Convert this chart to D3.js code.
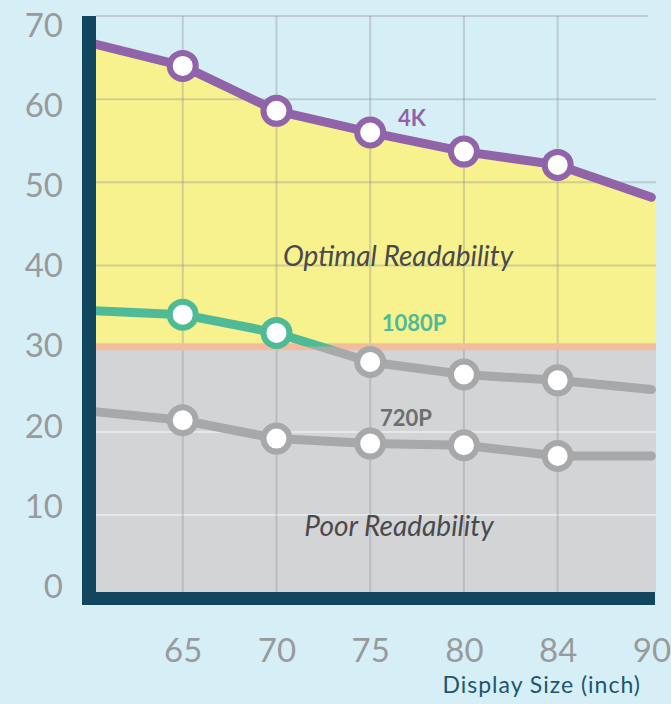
<!DOCTYPE html>
<html>
<head>
<meta charset="utf-8">
<script src="https://cdn.jsdelivr.net/npm/d3@7"></script>
<style>
  html, body { margin: 0; padding: 0; background: #d6eff7; }
  svg { display: block; font-family: Lato, "Open Sans", sans-serif; }
</style>
</head>
<body>
<script>
// display sizes (first one sits on the axis and has no label)
const sizes = ["60", "65", "70", "75", "80", "84", "90"];
const sizeLabels = ["", "65", "70", "75", "80", "84", "90"];
const yTicks = [0, 10, 20, 30, 40, 50, 60, 70];

// viewing distance values
const values4k = [66.8, 64.0, 58.6, 56.0, 53.7, 52.1, 48.2];
const values1080 = [34.6, 34.1, 31.9, 28.4, 26.9, 26.2, 25.1];
const values720 = [22.5, 21.4, 19.2, 18.6, 18.4, 17.1, 17.1];
const threshold = 30;

const W = 671, H = 704;
const svg = d3.select("body").append("svg")
  .attr("width", W).attr("height", H);

svg.append("rect").attr("width", W).attr("height", H).attr("fill", "#d6eff7");

const x = d3.scalePoint().domain(sizes).range([89, 651.4]);
const y = d3.scaleLinear().domain([0, 70]).range([598.3, 16]);
// tick labels are spread a little differently from the gridlines
const yLabel = d3.scaleLinear().domain([0, 70]).range([585.5, 24.5]);

const left = 89, right = 656, plotBottom = 592;

// yellow area under 4K line down to threshold
const area = d3.area()
  .x((d, i) => x(sizes[i]))
  .y0(y(threshold))
  .y1(d => y(d));
svg.append("path")
  .datum(values4k)
  .attr("d", area)
  .attr("fill", "#f7f18e");
svg.append("rect")
  .attr("x", x(sizes[6])).attr("width", right - x(sizes[6]))
  .attr("y", y(values4k[6])).attr("height", y(threshold) - y(values4k[6]))
  .attr("fill", "#f7f18e");

// gray poor readability zone
svg.append("rect")
  .attr("x", left).attr("width", right - left)
  .attr("y", y(threshold)).attr("height", plotBottom - y(threshold))
  .attr("fill", "#d3d4d6");

// gridlines
svg.append("g").selectAll("line")
  .data(yTicks.filter(d => d > 0))
  .join("line")
  .attr("x1", 96).attr("x2", d => d === 70 ? 648 : right)
  .attr("y1", d => y(d)).attr("y2", d => y(d))
  .attr("stroke", d => d < threshold ? "#e6e7e8" : "rgba(140,140,140,0.35)")
  .attr("stroke-width", 2);

svg.append("g").selectAll("line")
  .data(sizes.slice(1, 6))
  .join("line")
  .attr("x1", d => x(d)).attr("x2", d => x(d))
  .attr("y1", y(70)).attr("y2", plotBottom)
  .attr("stroke", "rgba(140,140,140,0.35)")
  .attr("stroke-width", 2);

// threshold band
svg.append("rect")
  .attr("x", left).attr("width", right - left)
  .attr("y", y(threshold) - 5.5).attr("height", 7)
  .attr("fill", "#f3bc9f");

const line = d3.line().x((d, i) => x(sizes[i])).y(d => y(d));

// clip paths for the 1080P line colour change
const defs = svg.append("defs");
defs.append("clipPath").attr("id", "above")
  .append("rect").attr("x", 0).attr("y", 0).attr("width", W).attr("height", y(threshold) - 2);
defs.append("clipPath").attr("id", "below")
  .append("rect").attr("x", 0).attr("y", y(threshold) - 2).attr("width", W).attr("height", H);

const purple = "#9163a9", green = "#4fba96", gray = "#a7a8aa";

function drawLine(data, color, clip) {
  const p = svg.append("path")
    .datum(data)
    .attr("d", line)
    .attr("fill", "none")
    .attr("stroke", color)
    .attr("stroke-width", 9)
    .attr("stroke-linecap", "round")
    .attr("stroke-linejoin", "round");
  if (clip) p.attr("clip-path", "url(#" + clip + ")");
}

drawLine(values720, gray);
drawLine(values1080, gray, "below");
drawLine(values1080, green, "above");
drawLine(values4k, purple);

function drawPoints(data, colorFn) {
  svg.append("g").selectAll("circle")
    .data(data.map((v, i) => ({ v, i })).filter(d => d.i > 0 && d.i < sizes.length - 1))
    .join("circle")
    .attr("cx", d => x(sizes[d.i]))
    .attr("cy", d => y(d.v))
    .attr("r", 13)
    .attr("fill", "#fff")
    .attr("stroke", d => colorFn(d.v))
    .attr("stroke-width", 6);
}

drawPoints(values720, () => gray);
drawPoints(values1080, v => v >= threshold ? green : gray);
drawPoints(values4k, () => purple);

// series labels
svg.append("text").attr("x", 412).attr("y", 126)
  .attr("text-anchor", "middle").attr("font-weight", 700).attr("font-size", 22)
  .attr("fill", purple).text("4K");
svg.append("text").attr("x", 414).attr("y", 331)
  .attr("text-anchor", "middle").attr("font-weight", 700).attr("font-size", 22)
  .attr("fill", green).text("1080P");
svg.append("text").attr("x", 406).attr("y", 426)
  .attr("text-anchor", "middle").attr("font-weight", 700).attr("font-size", 22)
  .attr("fill", "#6d6e70").text("720P");

// zone labels
svg.append("text").attr("x", 398).attr("y", 266)
  .attr("text-anchor", "middle").attr("font-style", "italic").attr("font-size", 28)
  .attr("fill", "#4a4a4c").text("Optimal Readability");
svg.append("text").attr("x", 399).attr("y", 536)
  .attr("text-anchor", "middle").attr("font-style", "italic").attr("font-size", 28)
  .attr("fill", "#4a4a4c").text("Poor Readability");

// axis bars
svg.append("rect").attr("x", 82).attr("y", y(70)).attr("width", 14).attr("height", 605 - y(70))
  .attr("fill", "#12465e");
svg.append("rect").attr("x", 82).attr("y", 592).attr("width", 655 - 82).attr("height", 13)
  .attr("fill", "#12465e");

// y tick labels
const yAxis = svg.append("g")
  .attr("transform", "translate(63,0)")
  .call(d3.axisLeft(yLabel).tickValues(yTicks).tickSize(0).tickPadding(0));
yAxis.select(".domain").remove();
yAxis.selectAll("text")
  .attr("font-size", 33).attr("font-family", "Lato, sans-serif")
  .attr("fill", "#999a9c").attr("dy", "0.36em");

// x tick labels
const xAxis = svg.append("g")
  .attr("transform", "translate(0,650)")
  .call(d3.axisBottom(x).tickValues(sizes.slice(1))
    .tickFormat(d => sizeLabels[sizes.indexOf(d)]).tickSize(0).tickPadding(0));
xAxis.select(".domain").remove();
xAxis.selectAll("text")
  .attr("y", 0).attr("dy", "0.36em")
  .attr("font-size", 33).attr("font-family", "Lato, sans-serif")
  .attr("fill", "#999a9c");

svg.append("text").attr("x", 641).attr("y", 693)
  .attr("text-anchor", "end").attr("font-size", 23).attr("letter-spacing", 1)
  .attr("fill", "#1d5670").text("Display Size (inch)");
</script>
</body>
</html>
